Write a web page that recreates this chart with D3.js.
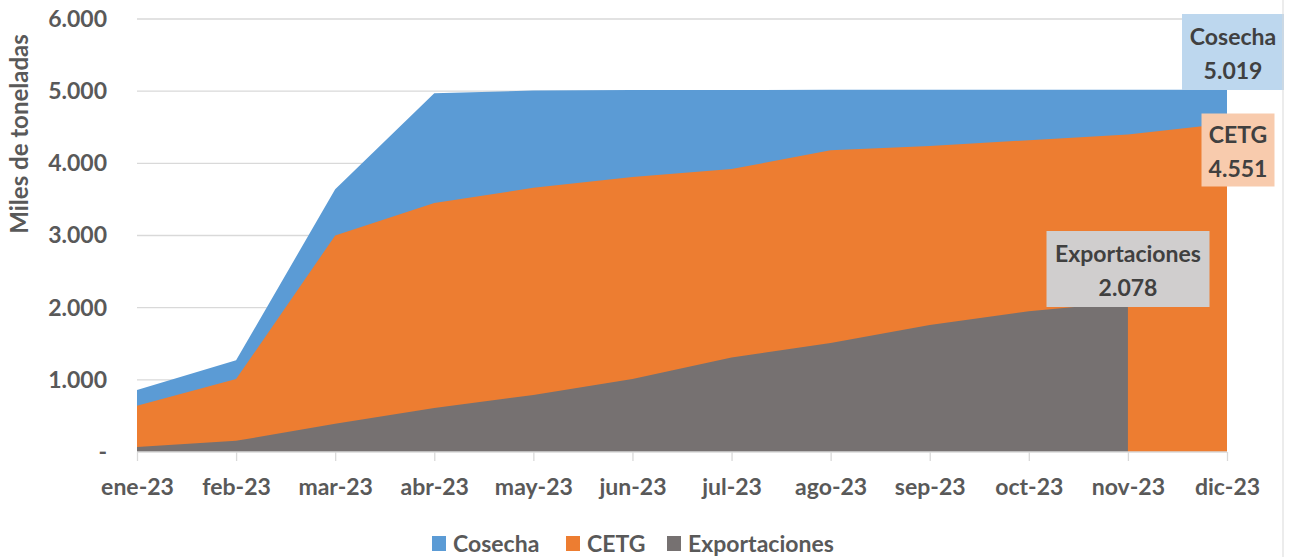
<!DOCTYPE html>
<html>
<head>
<meta charset="utf-8">
<script src="https://d3js.org/d3.v7.min.js"></script>
<style>
    body { margin: 0; background: #fff; }
    text { font-family: Lato, "Open Sans", sans-serif; font-weight: bold; }
    .axis-label { fill: #595959; font-size: 23px; }
    .grid line { stroke: #d9d9d9; stroke-width: 1.3px; }
</style>
</head>
<body>
<div id="chart"></div>
<script>
// data (miles de toneladas, acumulado)
var months = ["ene-23","feb-23","mar-23","abr-23","may-23","jun-23","jul-23","ago-23","sep-23","oct-23","nov-23","dic-23"];
var cosecha = [860, 1270, 3640, 4970, 5010, 5015, 5017, 5018, 5019, 5019, 5019, 5019];
var cetg = [640, 1010, 3000, 3450, 3660, 3810, 3920, 4180, 4240, 4320, 4400, 4551];
var exportaciones = [70, 155, 390, 610, 790, 1010, 1310, 1510, 1760, 1950, 2078, null];
var yTicks = [0, 1000, 2000, 3000, 4000, 5000, 6000];

var series = [
    { name: "Cosecha", values: cosecha, color: "#5b9bd5", box: "#bdd7ee" },
    { name: "CETG", values: cetg, color: "#ed7d31", box: "#f8cbad" },
    { name: "Exportaciones", values: exportaciones, color: "#767171", box: "#d0cece" }
];

var width = 1295, height = 557;
var margin = { top: 19, left: 137, right: 68, bottom: 105 };

var svg = d3.select("#chart").append("svg")
    .attr("width", width)
    .attr("height", height);

var x = d3.scalePoint()
    .domain(months)
    .range([margin.left, width - margin.right]);

var y = d3.scaleLinear()
    .domain([0, 6000])
    .range([height - margin.bottom, margin.top]);

var fmt = function (v) {
    if (v === 0) return "-";
    return d3.format(",")(v).replace(/,/g, ".");
};

// gridlines
svg.append("g")
    .attr("class", "grid")
    .selectAll("line")
    .data(yTicks.filter(function (d) { return d > 0; }))
    .enter().append("line")
    .attr("x1", margin.left)
    .attr("x2", width - margin.right)
    .attr("y1", function (d) { return y(d); })
    .attr("y2", function (d) { return y(d); });

// areas, drawn on top of each other (not stacked)
series.forEach(function (s) {
    var area = d3.area()
        .defined(function (d) { return d != null; })
        .x(function (d, i) { return x(months[i]); })
        .y0(y(0))
        .y1(function (d) { return y(d); });
    svg.append("path")
        .datum(s.values)
        .attr("d", area)
        .attr("fill", s.color);
});

// x axis
var xAxis = svg.append("g")
    .attr("transform", "translate(0," + y(0) + ")")
    .call(d3.axisBottom(x).tickSize(9).tickPadding(18));
xAxis.select(".domain").attr("stroke", "#d9d9d9").attr("stroke-width", 1.3)
    .attr("d", "M" + margin.left + ",0H" + (width - margin.right));
xAxis.selectAll(".tick line").attr("stroke", "#d9d9d9").attr("stroke-width", 1.3);
xAxis.selectAll(".tick text").attr("class", "axis-label").attr("font-size", null).attr("font-family", null);

// y axis
var yAxis = svg.append("g")
    .attr("transform", "translate(" + margin.left + ",0)")
    .call(d3.axisLeft(y).tickValues(yTicks).tickFormat(fmt).tickSize(0).tickPadding(30));
yAxis.select(".domain").remove();
yAxis.selectAll(".tick text").attr("class", "axis-label").attr("font-size", null).attr("font-family", null);

svg.append("text")
    .attr("class", "axis-label")
    .attr("transform", "translate(28,134) rotate(-90)")
    .attr("text-anchor", "middle")
    .style("font-size", "24px")
    .text("Miles de toneladas");

// data labels for last values
var labelPos = [
    { s: 0, i: 11, cx: 1233, cy: 52, w: 102, h: 76 },
    { s: 1, i: 11, cx: 1238, cy: 150, w: 73, h: 73 },
    { s: 2, i: 10, cx: 1128, cy: 269, w: 163, h: 76 }
];
labelPos.forEach(function (p) {
    var s = series[p.s];
    var g = svg.append("g");
    g.append("rect")
        .attr("x", p.cx - p.w / 2)
        .attr("y", p.cy - p.h / 2)
        .attr("width", p.w)
        .attr("height", p.h)
        .attr("fill", s.box);
    g.append("text")
        .attr("x", p.cx)
        .attr("y", p.cy - 7)
        .attr("text-anchor", "middle")
        .attr("fill", "#404040")
        .style("font-size", "23px")
        .text(s.name);
    g.append("text")
        .attr("x", p.cx)
        .attr("y", p.cy + 27)
        .attr("text-anchor", "middle")
        .attr("fill", "#404040")
        .style("font-size", "23px")
        .text(fmt(s.values[p.i]));
});

// legend
var legendX = [432, 566, 667];
series.forEach(function (s, i) {
    svg.append("rect")
        .attr("x", legendX[i])
        .attr("y", 536)
        .attr("width", 14)
        .attr("height", 15)
        .attr("fill", s.color);
    svg.append("text")
        .attr("class", "axis-label")
        .attr("x", legendX[i] + 21)
        .attr("y", 552)
        .text(s.name);
});

// chart border on the right
svg.append("line")
    .attr("x1", 1283).attr("x2", 1283)
    .attr("y1", 0).attr("y2", height)
    .attr("stroke", "#d9d9d9");
</script>
</body>
</html>
